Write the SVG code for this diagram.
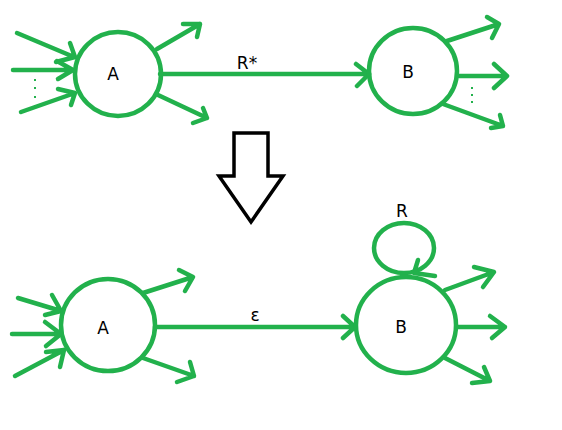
<svg xmlns="http://www.w3.org/2000/svg" width="562" height="430" viewBox="0 0 562 430">
<style>
.g{fill:none;stroke:#22b14c;stroke-width:4.5;stroke-linecap:round;stroke-linejoin:round}
.n{fill:none;stroke:#22b14c;stroke-width:4.5}
.t{font-family:"DejaVu Sans","Liberation Sans",sans-serif;font-size:17px;fill:#000;text-anchor:middle}
.d{fill:#22b14c}
</style>
<rect width="562" height="430" fill="#fff"/>
<g id="connectors">
  <path class="g" d="M17,33 L74,57 M70,43 L75,57 L56,62"/>
  <path class="g" d="M13,70 L72,70 M57,61 L73,70 L58,79"/>
  <path class="g" d="M21,112 L75,93 M58,89 L75,93 L71,105"/>
  <rect class="d" x="34" y="79" width="2" height="2"/>
  <rect class="d" x="34" y="87" width="2" height="2"/>
  <rect class="d" x="34" y="96" width="2" height="2"/>
  <path class="g" d="M157,49 L200,24 M183,24 L200,24 L197,37"/>
  <path class="g" d="M158,95 L207,118 M203,108 L207,118 L193,123"/>
  <path class="g" d="M160,74 L369,74 M356,64 L369,74 L357,86"/>
  <path class="g" d="M447,41 L499,24 M487,17 L499,24 L492,38"/>
  <path class="g" d="M459,76 L507,76 M494,64 L507,76 L494,88"/>
  <path class="g" d="M443,104 L503,126 M500,115 L503,126 L491,128"/>
  <rect class="d" x="471" y="87" width="2" height="2"/>
  <rect class="d" x="471" y="94" width="2" height="2"/>
  <rect class="d" x="471" y="101" width="2" height="2"/>
  <path class="g" d="M18,298 L61,311 M52,295 L61,311 L45,315"/>
  <path class="g" d="M12,334 L61,334 M45,322 L61,334 L46,346"/>
  <path class="g" d="M15,376 L64,350 M46,352 L64,350 L60,367"/>
  <path class="g" d="M143,293 L193,277 M179,270 L193,277 L185,291"/>
  <path class="g" d="M143,358 L194,376 M190,362 L194,376 L177,382"/>
  <path class="g" d="M155,327 L355,327 M343,316 L355,327 L343,338"/>
  <ellipse class="n" cx="404" cy="248" rx="30" ry="25"/>
  <path class="g" d="M418,260 L414,273 L435,276"/>
  <path class="g" d="M445,290 L494,272 M474,267 L494,272 L483,287"/>
  <path class="g" d="M458,327 L505,327 M490,316 L505,327 L492,338"/>
  <path class="g" d="M445,358 L490,381 M484,367 L490,381 L472,383"/>
</g>
<g id="nodeA1">
  <ellipse class="n" cx="118" cy="74" rx="43" ry="42"/>
  <text class="t" x="113" y="80">A</text>
</g>
<g id="nodeB1">
  <ellipse class="n" cx="413" cy="71" rx="44" ry="43"/>
  <text class="t" x="408" y="78">B</text>
</g>
<text class="t" x="247" y="69">R*</text>
<g id="transform-arrow">
  <path d="M234,133 L268,133 L268,176 L283,176 L251,222 L219,176 L234,176 Z" fill="#fff" stroke="#000" stroke-width="3.5" stroke-linejoin="miter"/>
</g>
<g id="nodeA2">
  <ellipse class="n" cx="108" cy="325" rx="47" ry="46"/>
  <text class="t" x="103" y="334">A</text>
</g>
<g id="nodeB2">
  <ellipse class="n" cx="406" cy="325" rx="50" ry="48"/>
  <text class="t" x="401" y="333">B</text>
</g>
<text class="t" x="255" y="321">ε</text>
<text class="t" x="402" y="217">R</text>
</svg>
